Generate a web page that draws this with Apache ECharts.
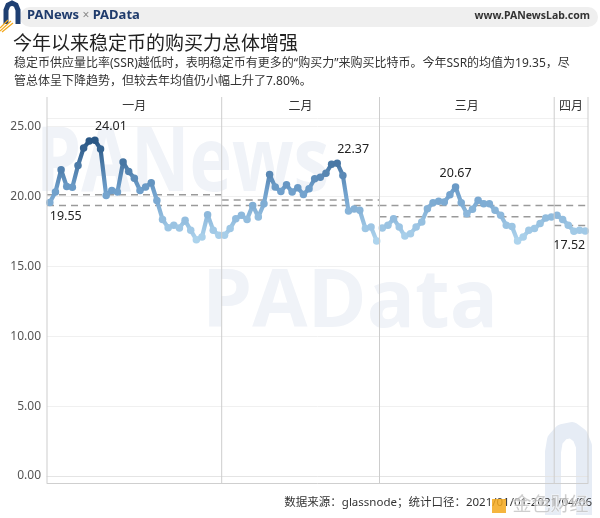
<!DOCTYPE html>
<html><head><meta charset="utf-8">
<script src="https://cdn.jsdelivr.net/npm/echarts@6/dist/echarts.min.js"></script>
<style>html,body{margin:0;padding:0;background:#fff}#c{width:600px;height:518px}</style>
</head><body><div id="c"></div>
<script>
// ---- data (SSR daily values) ----
const months = ['一月', '二月', '三月', '四月'];
const jan = [19.55, 20.3, 21.9, 20.7, 20.65, 22.2, 23.46, 23.95, 24.01, 23.39, 20.06, 20.42, 20.3, 22.45, 21.77, 21.3, 20.42, 20.66, 20.97, 19.7, 18.35, 17.76, 17.93, 17.74, 18.28, 17.57, 16.9, 17.09, 18.69, 17.57, 17.21];
const feb = [17.21, 17.69, 18.4, 18.64, 18.35, 19.35, 18.52, 19.47, 21.56, 20.66, 20.35, 20.83, 20.3, 20.61, 20.13, 20.54, 21.25, 21.37, 21.65, 22.3, 22.37, 21.49, 18.95, 19.1, 19.0, 17.7, 17.8, 16.8];
const mar = [17.74, 17.93, 18.4, 17.8, 17.16, 17.33, 17.8, 18.16, 19.11, 19.54, 19.64, 19.59, 20.11, 20.67, 19.54, 18.76, 19.07, 19.71, 19.47, 19.47, 19.0, 18.64, 17.93, 17.85, 16.81, 17.09, 17.57, 17.69, 18.05, 18.45, 18.52];
const apr = [18.64, 18.35, 17.93, 17.5, 17.57, 17.52];
const yTickValues = [0, 5, 10, 15, 20, 25];

const title = '今年以来稳定币的购买力总体增强';
const subtitle1 = '稳定币供应量比率(SSR)越低时，表明稳定币有更多的“购买力”来购买比特币。今年SSR的均值为19.35，尽';
const subtitle2 = '管总体呈下降趋势，但较去年均值仍小幅上升了7.80%。';
const footer = '数据来源：glassnode；统计口径：2021/01/01-2021/04/06';

// ---- derived ----
const monthData = [jan, feb, mar, apr];
const starts = []; let acc = 0;
monthData.forEach(m => { starts.push(acc); acc += m.length; });
const N = acc;
const all = [].concat(...monthData);
const mean = a => a.reduce((s, v) => s + v, 0) / a.length;
const overall = mean(all);
const mids = monthData.map((m, k) => starts[k] + (m.length - 1) / 2);

const FONT = '"Noto Sans","Noto Sans CJK SC",sans-serif';
const labelAlign = ['left', 'left', 'center', 'center'];

const chart = echarts.init(document.getElementById('c'), null, { renderer: 'canvas' });

const series = [];
monthData.forEach((m, k) => {
  let maxI = 0; m.forEach((v, i) => { if (v > m[maxI]) maxI = i; });
  const data = m.map((v, i) => {
    const gi = starts[k] + i;
    const item = { value: [gi, v] };
    if (i === maxI && k < 3) {
      item.label = { show: true, position: 'top', align: labelAlign[k], distance: 4 };
    }
    if (gi === 0) item.label = { show: true, position: 'bottom', align: 'left', distance: 4 };
    if (gi === N - 1) item.label = { show: true, position: 'bottom', align: 'right', distance: 4 };
    return item;
  });
  series.push({
    type: 'line', data, symbol: 'circle', symbolSize: 7.5, showSymbol: true,
    lineStyle: { width: 4.2 }, z: 3, animation: false,
    label: { show: false, color: '#222', fontSize: 12.5, fontFamily: FONT, formatter: p => p.value[1].toFixed(2) }
  });
});
monthData.forEach((m, k) => {
  const x0 = starts[k] - 0.5, x1 = starts[k] + m.length - 0.5;
  [overall, mean(m)].forEach(v => {
    series.push({
      type: 'line', data: [[x0, v], [x1, v]], symbol: 'none', silent: true, z: 2, animation: false,
      lineStyle: { color: '#9a9a9a', width: 1.5, type: [7, 5] }
    });
  });
});

const option = {
  backgroundColor: '#fff',
  animation: false,
  grid: { left: 47, right: 12, top: 118, bottom: 35 },
  xAxis: [{
    type: 'value', min: -0.5, max: N - 0.5, position: 'top',
    axisLine: { show: true, lineStyle: { color: '#e4e4e4', width: 1 } },
    axisTick: { show: false }, splitLine: { show: false },
    axisLabel: {
      customValues: mids, margin: 5, color: '#333', fontSize: 12, fontFamily: FONT,
      formatter: v => { const k = mids.findIndex(m => Math.abs(m - v) < 1e-6); return k >= 0 ? months[k] : ''; }
    }
  }, {
    type: 'value', min: -0.5, max: N - 0.5, position: 'bottom',
    axisLine: { show: true, lineStyle: { color: '#cfcfcf', width: 1 } },
    axisTick: { show: false }, splitLine: { show: false }, axisLabel: { show: false }
  }],
  yAxis: {
    type: 'value', min: -0.5, max: 25.6, splitNumber: 5,
    axisLine: { show: false }, axisTick: { show: false },
    splitLine: { lineStyle: { color: '#f0f0f0' } },
    axisLabel: {
      color: '#555', fontSize: 12, fontFamily: FONT, margin: 6,
      formatter: v => (yTickValues.includes(v) ? v.toFixed(2) : '')
    }
  },
  visualMap: {
    show: false, type: 'continuous', dimension: 1, seriesIndex: [0, 1, 2, 3],
    min: Math.min(...all), max: Math.max(...all),
    inRange: { color: ['#aed4ed', '#6f9fcb', '#295684'] }
  },
  series
};
chart.setOption(option);

// ---- decorations positioned through the chart's own scales ----
const yBottom = chart.convertToPixel({ yAxisIndex: 0 }, -0.5);
const yTop = chart.convertToPixel({ yAxisIndex: 0 }, 25.6);
const headerTop = yTop - 21;
const graphics = [];
// watermarks
graphics.push({ type: 'text', silent: true, z: -10, left: 36, top: 120, style: { text: 'PANews', fontSize: 90, fontWeight: 'bold', fontFamily: '"Open Sans",sans-serif', fill: '#f0f3f8' }, scaleX: 0.8 });
graphics.push({ type: 'text', silent: true, z: -10, left: 202, top: 264, style: { text: 'PAData', fontSize: 80, fontWeight: 'bold', fontFamily: '"Open Sans",sans-serif', fill: '#f0f3f8' } });
graphics.push({ type: 'polyline', silent: true, z: -10, shape: { points: [[553, 515], [553, 452], [555, 440], [562, 432], [572, 430], [580, 436], [584, 446], [584, 515]] }, style: { stroke: '#e6ecf5', lineWidth: 16, fill: null, lineJoin: 'round' } });
// month separators / pane borders
for (let k = 0; k <= monthData.length; k++) {
  const bx = chart.convertToPixel({ xAxisIndex: 0 }, (k < monthData.length ? starts[k] : N) - 0.5);
  graphics.push({ type: 'line', silent: true, z: 5, shape: { x1: bx, y1: headerTop, x2: bx, y2: yBottom }, style: { stroke: '#cdcdcd', lineWidth: 1 } });
}
// header bar
graphics.push({ type: 'rect', silent: true, shape: { x: 20, y: 7, width: 578, height: 20, r: 10 }, style: { fill: '#efefef' } });
graphics.push({ type: 'polyline', silent: true, shape: { points: [[6, 24], [6, 10], [8, 5], [12, 3], [16, 5], [18, 10], [18, 24]] }, style: { stroke: '#1e3f72', lineWidth: 5, fill: null } });
[[0, 28, 8, 20], [0, 31, 11, 21], [2, 32, 13, 23]].forEach(p => graphics.push({ type: 'line', silent: true, shape: { x1: p[0], y1: p[1], x2: p[2], y2: p[3] }, style: { stroke: '#f3a81c', lineWidth: 1.2 } }));
graphics.push({ type: 'text', silent: true, left: 27, top: 9, style: { text: '{a|PANews} {b|×} {a|PAData}', rich: { a: { fontSize: 13, fontWeight: 'bold', fill: '#1f3b6c', fontFamily: FONT }, b: { fontSize: 12, fill: '#888', fontFamily: FONT } } } });
graphics.push({ type: 'text', silent: true, right: 10, top: 11, style: { text: 'www.PANewsLab.com', fontSize: 10.5, fontWeight: 'bold', fill: '#333', fontFamily: FONT } });
// titles
graphics.push({ type: 'text', silent: true, left: 13, top: 35, style: { text: title, fontSize: 19, fill: '#222', fontFamily: FONT } });
graphics.push({ type: 'text', silent: true, left: 14, top: 58, style: { text: subtitle1, fontSize: 12, fill: '#333', fontFamily: FONT } });
graphics.push({ type: 'text', silent: true, left: 14, top: 76, style: { text: subtitle2, fontSize: 12, fill: '#333', fontFamily: FONT } });
// footer
graphics.push({ type: 'text', silent: true, right: 8, top: 497, style: { text: footer, fontSize: 11.5, fill: '#333', fontFamily: FONT } });
graphics.push({ type: 'rect', silent: true, z: 20, shape: { x: 492, y: 499, width: 14, height: 14 }, style: { fill: 'rgba(243,168,28,0.85)' } });
graphics.push({ type: 'text', silent: true, z: 20, left: 512, top: 496, style: { text: '金色财经', fontSize: 19, fill: 'rgba(190,190,190,0.75)', fontFamily: FONT, stroke: 'rgba(255,255,255,0.6)', lineWidth: 1 } });
chart.setOption({ graphic: graphics });
</script>
</body></html>
